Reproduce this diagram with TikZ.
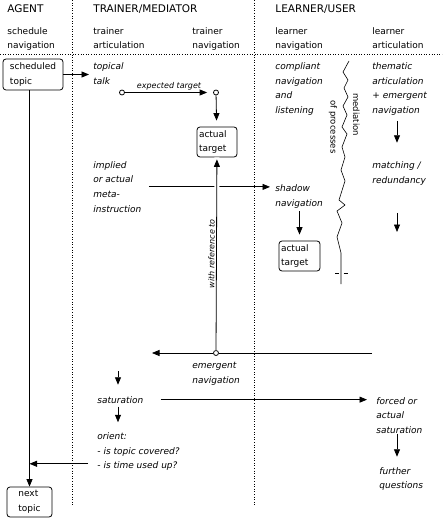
\documentclass[tikz,border=0pt]{standalone}
\usepackage{fontspec}
\setmainfont{DejaVu Sans}
\usetikzlibrary{arrows.meta}

\begin{document}
\begin{tikzpicture}[x=1pt, y=-1pt, line width=0.8pt,
		head/.style={anchor=base west, inner sep=0pt, font=\fontsize{10.5}{13}\selectfont},
		body/.style={anchor=base west, inner sep=0pt, align=left, font=\fontsize{9}{14.5}\selectfont},
		note/.style={body, font=\fontsize{9}{14.5}\selectfont\itshape},
		hint/.style={inner sep=1.5pt, font=\fontsize{8}{10}\selectfont\itshape},
		side/.style={anchor=base west, inner sep=0pt, rotate=-90, font=\fontsize{8.5}{10}\selectfont},
		topicbox/.style={draw, rounded corners=3pt, align=left, font=\fontsize{9}{14.5}\selectfont, minimum height=30pt},
		knob/.style={circle, draw, fill=white, inner sep=0pt, minimum size=5pt},
		arr/.style={-{Triangle[length=7.5pt, width=6pt]}},
		sep/.style={dotted, line width=0.6pt}]
		\useasboundingbox (0,0) rectangle (442,521);
		
		\draw[sep] (0,54) -- (442,54);
		\draw[sep] (72,0) -- (72,505);
		\draw[sep] (254,0) -- (254,505);
		
		\node (agent) at (7,12.7) [head] {AGENT};
		\node (trainer) at (93,12.7) [head] {TRAINER/MEDIATOR};
		\node (learner) at (275,12.7) [head] {LEARNER/USER};
		\node (schedule-nav) at (7,49) [body] {schedule\\navigation};
		\node (trainer-art) at (93,49) [body] {trainer\\articulation};
		\node (trainer-nav) at (192,49) [body] {trainer\\navigation};
		\node (learner-nav) at (275,49) [body] {learner\\navigation};
		\node (learner-art) at (372,49) [body] {learner\\articulation};
		
		\node (sched) at (33,74.5) [topicbox, minimum width=60pt, minimum height=31pt] {scheduled\\topic};
		\node (next) at (29.5,502) [topicbox, minimum width=45pt] {next\\topic};
		\node (target) at (217,142) [topicbox, text width=36pt, inner xsep=2pt] {actual\\target};
		\node (shadow-target) at (299.5,256) [topicbox, text width=37pt, inner xsep=2pt] {actual\\target};
		
		\node (topical) at (93,84.5) [note] {topical\\talk};
		\node (compliant) at (275,113.5) [note] {compliant\\navigation\\and\\listening};
		\node (thematic) at (372,113.5) [note] {thematic\\articulation\\+ emergent\\navigation};
		\node (implied) at (93,212) [note] {implied\\or actual\\meta-\\instruction};
		\node (matching) at (372,183.5) [note] {matching /\\redundancy};
		\node (shadow) at (275,206) [note] {shadow\\navigation};
		\node (emergent) at (192,383) [note] {emergent\\navigation};
		\node (saturation) at (97,403) [note] {saturation};
		\node (forced) at (376,433) [note] {forced or\\actual\\saturation};
		\node (orient) at (97,468.5) [note] {orient:\\- is topic covered?\\- is time used up?};
		\node (further) at (379,488.5) [note] {further\\questions};
		
		\node (mediation) at (353,93) [side] {mediation};
		\node (processes) at (330.5,100) [side] {of processes};
		
		\node (expected-from) at (122,92.5) [knob] {};
		\node (expected-to) at (216,92.5) [knob] {};
		\node (emergent-knob) at (216,353) [knob] {};
		\coordinate (articulation) at (397,0);
		\coordinate (emergent-from) at (372,353);
		\coordinate (emergent-to) at (152,353);
		\coordinate (saturation-in) at (118,371);
		\coordinate (redundancy-out) at (397,232);
		\coordinate (orient-out) at ([yshift=7pt]orient.south west);
		
		\draw[line width=0.6pt] (349,61) -- (343,72) -- (348,80) -- (344,88) -- (348,97) -- (343,106) -- (347,115) -- (342,127) -- (347,134) -- (342,147) -- (345,157) -- (341,170) -- (345,181) -- (339,200) -- (345,205) -- (337,211) -- (342,223) -- (337,237) -- (341,253) -- (341,284);
		\draw[line width=0.6pt] (335,273) -- (338.5,273) (343.5,273) -- (347.5,273);
		
		\draw[arr, shorten >=4pt] (sched.east) -- (sched.east -| topical.west);
		\draw[arr, shorten >=6pt] (expected-from) -- (expected-to) node[midway, above, hint] {expected target};
		\draw[arr, shorten >=6pt] (expected-to) -- (target);
		\draw[arr, shorten <=7pt, shorten >=5pt] (implied.east) -- (implied.east -| shadow.west);
		\draw[white, line width=5pt] (emergent-knob) -- (target);
		\draw[arr, shorten >=2pt] (emergent-knob) -- (target) node[midway, sloped, above, hint] {with reference to};
		\draw (emergent-from) -- (emergent-knob);
		\draw[arr] (emergent-knob) -- (emergent-to);
		\draw[arr, shorten <=3pt, shorten >=6pt] (shadow-target.north |- shadow.south) -- (shadow-target.north);
		\draw[arr, shorten <=5pt, shorten >=19pt] (thematic.south -| articulation) -- (matching.north -| articulation);
		\draw[arr, shorten <=27pt] (matching.south -| articulation) -- (redundancy-out);
		\draw[arr, shorten >=11pt] (saturation-in) -- (saturation-in |- saturation.north);
		\draw[arr, shorten <=17pt, shorten >=9pt] (saturation.east) -- (saturation.east -| forced.west);
		\draw[arr, shorten <=3pt, shorten >=10pt] (saturation.south -| saturation-in) -- (orient.north -| saturation-in);
		\draw[arr, shorten <=9pt] (orient-out) -- (orient-out -| next.north);
		\draw[arr] (next.north |- sched.south) -- (next.north);
		\draw[arr, shorten >=10pt] (forced.south -| articulation) -- (further.north -| articulation);
		
	\end{tikzpicture}
\end{document}
